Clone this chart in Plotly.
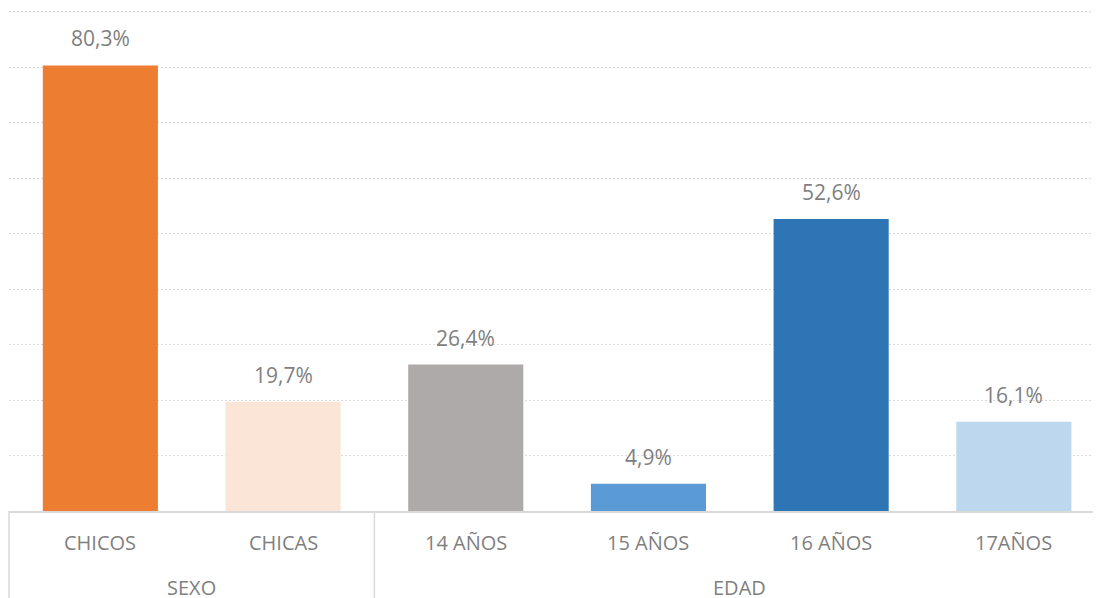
import plotly.graph_objects as go

categories = ["CHICOS", "CHICAS", "14 AÑOS", "15 AÑOS", "16 AÑOS", "17AÑOS"]
groups = ["SEXO", "EDAD"]
group_members = [[0, 1], [2, 3, 4, 5]]
values = [80.3, 19.7, 26.4, 4.9, 52.6, 16.1]
value_labels = ["80,3%", "19,7%", "26,4%", "4,9%", "52,6%", "16,1%"]
colors = ["#ED7D31", "#FBE5D6", "#AEAAAA", "#5B9BD5", "#2E75B6", "#BDD7EE"]

FONT = "Open Sans"
TXT = "#7f7f7f"
GRID = "#d9d9d9"

xs = list(range(len(categories)))
xmin, xmax = -0.5, 5.477
ytop = 90

fig = go.Figure()
fig.add_trace(go.Bar(
    x=xs, y=values, marker=dict(color=colors, line=dict(width=0)),
    width=0.63, hoverinfo="skip", showlegend=False,
))

# value labels
for x, v, t in zip(xs, values, value_labels):
    fig.add_annotation(x=x, y=v, text=t, showarrow=False, xref="x", yref="y",
                       yanchor="bottom", yshift=11,
                       font=dict(family=FONT, size=21, color=TXT))

# category labels
for x, c in zip(xs, categories):
    fig.add_annotation(x=x, y=0, text=c, showarrow=False, xref="x", yref="paper",
                       yanchor="middle", yshift=-31,
                       font=dict(family=FONT, size=20, color=TXT))

# group labels
for g, members in zip(groups, group_members):
    cx = (members[0] + members[-1]) / 2
    fig.add_annotation(x=cx, y=0, text=g, showarrow=False, xref="x", yref="paper",
                       yanchor="middle", yshift=-76,
                       font=dict(family=FONT, size=20, color=TXT))

# group dividers
span = xmax - xmin
for members in group_members:
    left = members[0] - 0.5
    px = (left - xmin) / span
    fig.add_shape(type="line", xref="paper", yref="paper", x0=px, x1=px,
                  y0=0, y1=-0.2, line=dict(color=GRID, width=1.5))

# top gridline (plotly drops the one on the edge)
fig.add_shape(type="line", xref="paper", yref="y", x0=0, x1=1, y0=ytop, y1=ytop,
              line=dict(color=GRID, width=1.2, dash="2px,2px"), layer="below")

fig.update_layout(
    width=1093, height=590,
    margin=dict(l=1, r=0, t=3, b=87),
    paper_bgcolor="white", plot_bgcolor="white",
    bargap=0.37,
    xaxis=dict(range=[xmin, xmax], showticklabels=False, showgrid=False,
               zeroline=False, showline=True, linecolor=GRID, linewidth=1.5,
               ticks=""),
    yaxis=dict(range=[0, 90.1], dtick=10, showticklabels=False, showgrid=True,
               gridcolor=GRID, griddash="2px,2px", gridwidth=1.2, zeroline=False,
               showline=False, ticks=""),
)

fig.write_html("out.html")
